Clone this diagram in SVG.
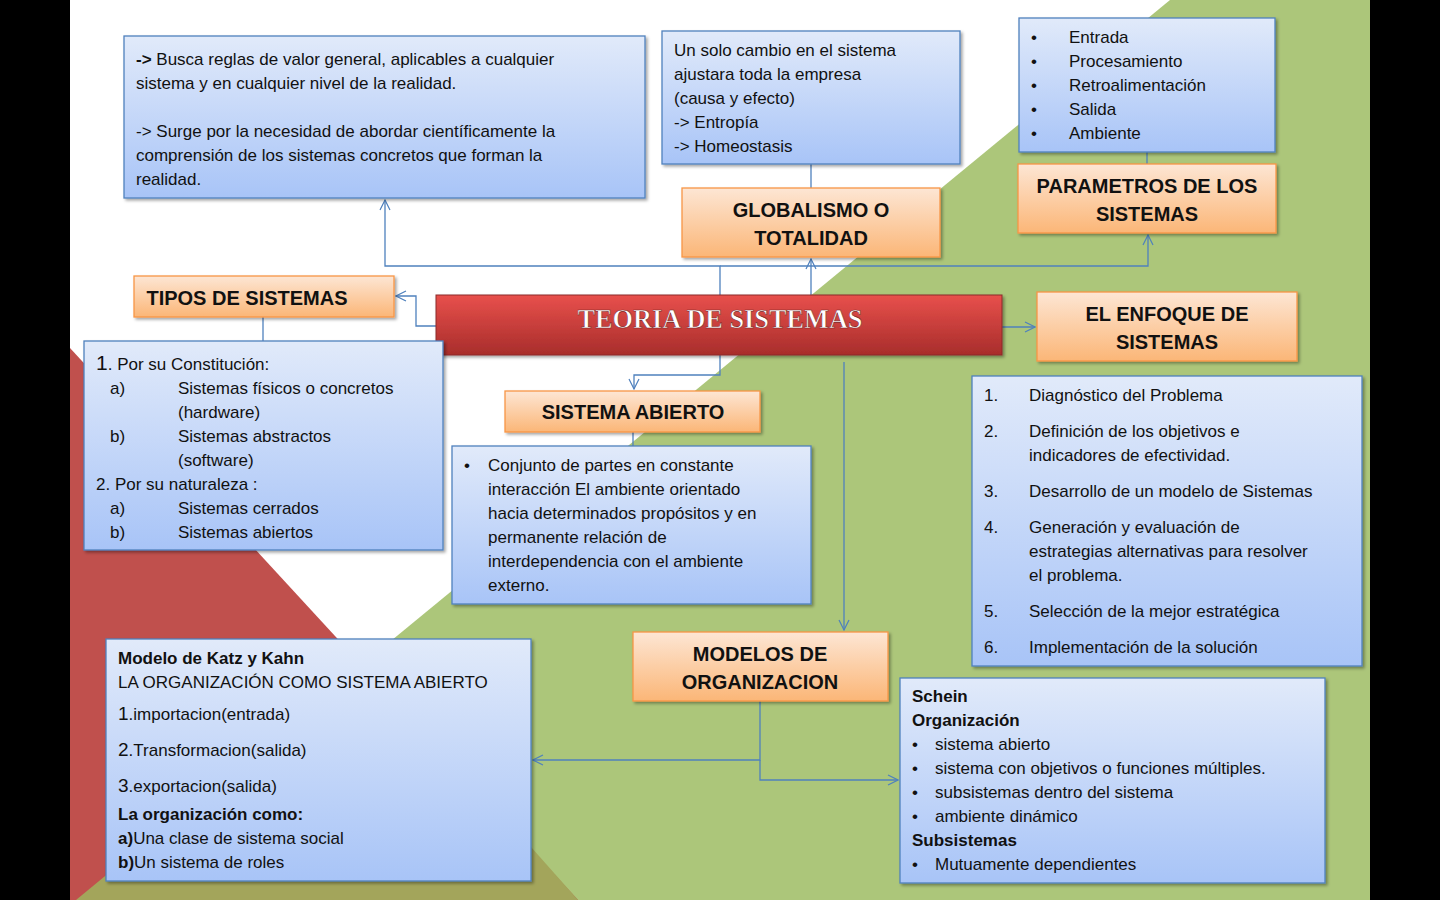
<svg xmlns="http://www.w3.org/2000/svg" width="1440" height="900" viewBox="0 0 1440 900">
<defs>
<linearGradient id="gb" x1="0" y1="0" x2="0" y2="1"><stop offset="0" stop-color="#e1eafa"/><stop offset="1" stop-color="#a8c4f7"/></linearGradient>
<linearGradient id="go" x1="0" y1="0" x2="0" y2="1"><stop offset="0" stop-color="#fde6d4"/><stop offset="1" stop-color="#fbb677"/></linearGradient>
<linearGradient id="gr" x1="0" y1="0" x2="0" y2="1"><stop offset="0" stop-color="#e8504c"/><stop offset="1" stop-color="#a82d2b"/></linearGradient>
<marker id="ar" viewBox="0 0 12 12" refX="11" refY="6" markerWidth="12" markerHeight="12" markerUnits="userSpaceOnUse" orient="auto"><path d="M1,1 L11,6 L1,11" fill="none" stroke="#4f81bd" stroke-width="1.2"/></marker>
<filter id="sh" x="-5%" y="-5%" width="115%" height="120%"><feDropShadow dx="2" dy="2" stdDeviation="1.5" flood-color="#000" flood-opacity="0.35"/></filter>
</defs>
<style>
.bb{fill:url(#gb);stroke:#4f81bd;stroke-width:1.3;filter:url(#sh)}
.ob{fill:url(#go);stroke:#f79646;stroke-width:1.3;filter:url(#sh)}
.t{font-family:"Liberation Sans",Arial,sans-serif;font-size:17px;fill:#111}
.b{font-weight:bold}
.h{font-family:"Liberation Sans",Arial,sans-serif;font-size:20px;font-weight:bold;fill:#111;text-anchor:middle}
.c line,.c path{stroke:#4f81bd;stroke-width:1.3;fill:none}
</style>
<rect width="1440" height="900" fill="#000"/>
<rect x="70" y="0" width="1300" height="900" fill="#fff"/>
<polygon points="1170,0 1370,0 1370,900 76,900" fill="#acc67a"/>
<polygon points="70,348 578,900 70,900" fill="#c0504d"/>
<polygon points="366,661 578,900 76,900" fill="#a3a55b"/>
<g class="c">
<path d="M720,295 V266 H385 V200" marker-end="url(#ar)"/>
<path d="M720,266 H1148 V235" marker-end="url(#ar)"/>
<path d="M811,295 V259" marker-end="url(#ar)"/>
<line x1="811" y1="188" x2="811" y2="164"/>
<line x1="1147" y1="164" x2="1147" y2="152"/>
<path d="M436,326 H416 V296 H396" marker-end="url(#ar)"/>
<line x1="263" y1="317" x2="263" y2="341"/>
<path d="M1002,327 H1035" marker-end="url(#ar)"/>
<path d="M720,355 V375 H634 V389" marker-end="url(#ar)"/>
<line x1="633" y1="432" x2="633" y2="446"/>
<path d="M844,362 V630" marker-end="url(#ar)"/>
<path d="M760,701 V760 H533" marker-end="url(#ar)"/>
<path d="M760,760 V780 H898" marker-end="url(#ar)"/>
</g>
<g id="n-reglas"><rect class="bb" x="124" y="36" width="521" height="162"/>
<text class="t" x="136" y="65"><tspan class="b">-&gt;</tspan> Busca  reglas de valor general, aplicables a cualquier</text>
<text class="t" x="136" y="89">sistema y en cualquier nivel de la realidad.</text>
<text class="t" x="136" y="137">-&gt; Surge por la necesidad de abordar científicamente  la</text>
<text class="t" x="136" y="161">comprensión de los sistemas concretos que forman la</text>
<text class="t" x="136" y="185">realidad.</text></g>
<g id="n-cambio"><rect class="bb" x="662" y="31" width="298" height="133"/>
<text class="t" x="674" y="56">Un solo cambio en el sistema</text>
<text class="t" x="674" y="80">ajustara toda la empresa</text>
<text class="t" x="674" y="104">(causa y efecto)</text>
<text class="t" x="674" y="128">-&gt; Entropía</text>
<text class="t" x="674" y="152">-&gt; Homeostasis</text></g>
<g id="n-params-list"><rect class="bb" x="1019" y="18" width="256" height="134"/>
<g class="t"><text class="t" x="1031" y="43">•</text><text class="t" x="1031" y="67">•</text><text class="t" x="1031" y="91">•</text><text class="t" x="1031" y="115">•</text><text class="t" x="1031" y="139">•</text></g>
<text class="t" x="1069" y="43">Entrada</text>
<text class="t" x="1069" y="67">Procesamiento</text>
<text class="t" x="1069" y="91">Retroalimentación</text>
<text class="t" x="1069" y="115">Salida</text>
<text class="t" x="1069" y="139">Ambiente</text></g>
<g id="n-globalismo"><rect class="ob" x="682" y="188" width="258" height="69"/>
<text class="h" x="811" y="217">GLOBALISMO O</text><text class="h" x="811" y="245">TOTALIDAD</text></g>
<g id="n-parametros"><rect class="ob" x="1018" y="164" width="258" height="69"/>
<text class="h" x="1147" y="193">PARAMETROS DE LOS</text><text class="h" x="1147" y="221">SISTEMAS</text></g>
<g id="n-tipos"><rect class="ob" x="134" y="276" width="260" height="41"/>
<text class="h" x="247" y="305">TIPOS DE SISTEMAS</text></g>
<g id="n-teoria"><rect x="436" y="295" width="566" height="60" fill="url(#gr)" stroke="#8c2a28" stroke-width="1" filter="url(#sh)"/>
<text x="720" y="328" text-anchor="middle" font-family="Liberation Serif,serif" font-weight="bold" font-size="28" fill="#fff" stroke="#7a1f1f" stroke-width="0.6" textLength="285" lengthAdjust="spacingAndGlyphs">TEORIA DE SISTEMAS</text></g>
<g id="n-enfoque"><rect class="ob" x="1037" y="292" width="260" height="69"/>
<text class="h" x="1167" y="321">EL ENFOQUE DE</text><text class="h" x="1167" y="349">SISTEMAS</text></g>
<g id="n-tipos-list"><rect class="bb" x="84" y="341" width="359" height="209"/>
<text class="t" x="96" y="370"><tspan font-size="21">1</tspan>. Por su Constitución:</text>
<text class="t" x="110" y="394">a)</text><text class="t" x="178" y="394">Sistemas físicos o concretos</text>
<text class="t" x="178" y="418">(hardware)</text>
<text class="t" x="110" y="442">b)</text><text class="t" x="178" y="442">Sistemas abstractos</text>
<text class="t" x="178" y="466">(software)</text>
<text class="t" x="96" y="490">2. Por su naturaleza :</text>
<text class="t" x="110" y="514">a)</text><text class="t" x="178" y="514">Sistemas cerrados</text>
<text class="t" x="110" y="538">b)</text><text class="t" x="178" y="538">Sistemas abiertos</text></g>
<g id="n-abierto"><rect class="ob" x="505" y="391" width="255" height="41"/>
<text class="h" x="633" y="419">SISTEMA ABIERTO</text></g>
<g id="n-abierto-text"><rect class="bb" x="452" y="446" width="359" height="158"/>
<text class="t" x="464" y="471">•</text>
<text class="t" x="488" y="471">Conjunto de partes en constante</text>
<text class="t" x="488" y="495">interacción El ambiente orientado</text>
<text class="t" x="488" y="519">hacia determinados propósitos y en</text>
<text class="t" x="488" y="543">permanente relación de</text>
<text class="t" x="488" y="567">interdependencia con el ambiente</text>
<text class="t" x="488" y="591">externo.</text></g>
<g id="n-enfoque-list"><rect class="bb" x="972" y="376" width="390" height="290"/>
<text class="t" x="984" y="401">1.</text><text class="t" x="1029" y="401">Diagnóstico del Problema</text>
<text class="t" x="984" y="437">2.</text><text class="t" x="1029" y="437">Definición de los objetivos e</text>
<text class="t" x="1029" y="461">indicadores de efectividad.</text>
<text class="t" x="984" y="497">3.</text><text class="t" x="1029" y="497">Desarrollo de un modelo de Sistemas</text>
<text class="t" x="984" y="533">4.</text><text class="t" x="1029" y="533">Generación y evaluación de</text>
<text class="t" x="1029" y="557">estrategias alternativas para resolver</text>
<text class="t" x="1029" y="581">el problema.</text>
<text class="t" x="984" y="617">5.</text><text class="t" x="1029" y="617">Selección de la mejor estratégica</text>
<text class="t" x="984" y="653">6.</text><text class="t" x="1029" y="653">Implementación de la solución</text></g>
<g id="n-modelos"><rect class="ob" x="633" y="632" width="255" height="69"/>
<text class="h" x="760" y="661">MODELOS DE</text><text class="h" x="760" y="689">ORGANIZACION</text></g>
<g id="n-katz"><rect class="bb" x="106" y="639" width="425" height="242"/>
<text class="t b" x="118" y="664">Modelo de Katz y Kahn</text>
<text class="t" x="118" y="688">LA ORGANIZACIÓN COMO SISTEMA ABIERTO</text>
<text class="t" x="118" y="720"><tspan font-size="19">1</tspan>.importacion(entrada)</text>
<text class="t" x="118" y="756"><tspan font-size="19">2</tspan>.Transformacion(salida)</text>
<text class="t" x="118" y="792"><tspan font-size="19">3</tspan>.exportacion(salida)</text>
<text class="t b" x="118" y="820">La organización como:</text>
<text class="t" x="118" y="844"><tspan class="b">a)</tspan>Una clase de sistema social</text>
<text class="t" x="118" y="868"><tspan class="b">b)</tspan>Un sistema de roles</text></g>
<g id="n-schein"><rect class="bb" x="900" y="678" width="425" height="205"/>
<text class="t b" x="912" y="702">Schein</text>
<text class="t b" x="912" y="726">Organización</text>
<text class="t" x="912" y="750">•</text><text class="t" x="935" y="750">sistema abierto</text>
<text class="t" x="912" y="774">•</text><text class="t" x="935" y="774">sistema con objetivos o funciones múltiples.</text>
<text class="t" x="912" y="798">•</text><text class="t" x="935" y="798">subsistemas dentro del sistema</text>
<text class="t" x="912" y="822">•</text><text class="t" x="935" y="822">ambiente dinámico</text>
<text class="t b" x="912" y="846">Subsistemas</text>
<text class="t" x="912" y="870">•</text><text class="t" x="935" y="870">Mutuamente dependientes</text></g>
</svg>
